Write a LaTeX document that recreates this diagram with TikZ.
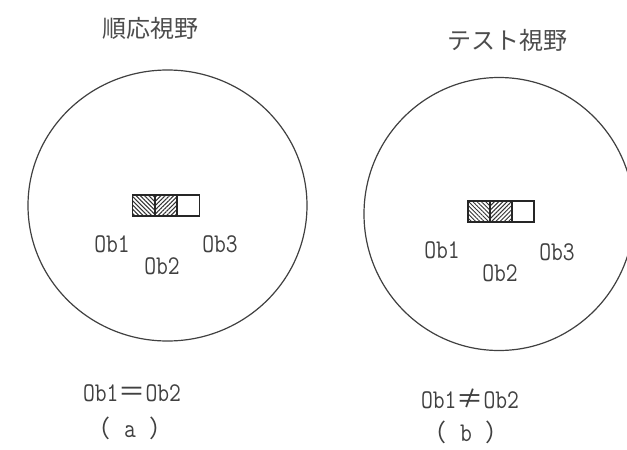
\documentclass[tikz,border=0pt]{standalone}
\usepackage{fontspec}
\newfontfamily\cjk{Noto Sans CJK JP}
\newfontfamily\labfont[FakeStretch=0.85]{Latin Modern Mono}
\usetikzlibrary{patterns.meta}
\begin{document}
\begin{tikzpicture}[x=1pt,y=-1pt,
  field/.style={draw=black!75, line width=1.2pt},
  title/.style={font=\cjk\fontsize{24}{24}\selectfont, text=black!70, inner sep=0pt},
  lab/.style={font=\labfont\fontsize{27}{27}\selectfont, text=black!75, inner sep=0pt},
  seg/.style={draw=black!85, line width=1.3pt, minimum width=22pt, minimum height=21pt, inner sep=0pt, anchor=center},
  hatchA/.style={pattern={Lines[angle=-45,distance=3pt,line width=1pt]}, pattern color=black!80},
  hatchB/.style={pattern={Lines[angle=45,distance=3pt,line width=1pt]}, pattern color=black!80}]
\useasboundingbox[fill=white] (0,0) rectangle (627,450);
\begin{scope}
\clip (0,0) rectangle (627,450);
\draw[field] (167.5,205.5) ellipse [x radius=139.5, y radius=135.5];
\draw[field] (499,214) ellipse [x radius=135, y radius=136.5];
\end{scope}
% titles
\node[title] (ta) at (150,28) {順応視野};
\node[title] (tb) at (507,40) {テスト視野};
% left stimulus
\node[seg, hatchA] (la1) at (143.5,205.5) {};
\node[seg, hatchB] (la2) at (166,205.5) {};
\node[seg] (la3) at (188.5,205.5) {};
% right stimulus
\node[seg, hatchA] (lb1) at (479,211.5) {};
\node[seg, hatchB] (lb2) at (501,211.5) {};
\node[seg] (lb3) at (523,211.5) {};
% labels
\node[lab] (a1) at (112,244) {Ob1};
\node[lab] (a2) at (162,266) {Ob2};
\node[lab] (a3) at (220,244) {Ob3};
\node[lab] (b1) at (442,250) {Ob1};
\node[lab] (b2) at (500,273) {Ob2};
\node[lab] (b3) at (557,252) {Ob3};
% captions
\node[lab] (ca) at (132,393) {Ob1{\cjk ＝}Ob2};
\node[lab] (pa) at (130,428) {{\cjk\fontsize{24}{24}\selectfont （}\enspace a\enspace{\cjk\fontsize{24}{24}\selectfont ）}};
\node[lab] (cb) at (470,399) {Ob1{\cjk ≠}Ob2};
\node[lab] (pb) at (466,432) {{\cjk\fontsize{24}{24}\selectfont （}\enspace b\enspace{\cjk\fontsize{24}{24}\selectfont ）}};
\end{tikzpicture}
\end{document}
